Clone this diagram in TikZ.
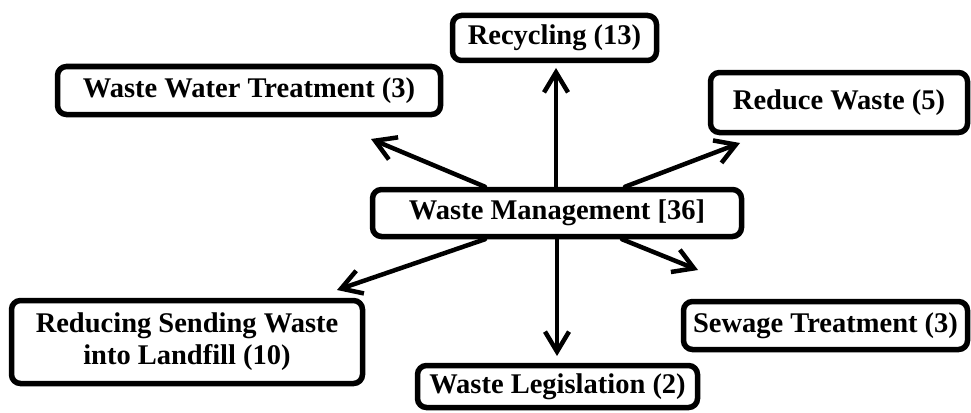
\documentclass[tikz,border=0pt]{standalone}
\usepackage{fontspec}
\setmainfont{Liberation Serif}
\usetikzlibrary{arrows.meta}
\begin{document}
\begin{tikzpicture}[x=1pt,y=-1pt,
  topic/.style={draw=black, line width=5.5pt, rounded corners=9pt, fill=white,
    inner sep=0pt, align=center,
    font=\fontsize{28.5}{32}\selectfont\bfseries},
  link/.style={line width=4.5pt, line cap=round,
    -{Straight Barb[length=20pt,width=24pt,line width=4.5pt]}}]
\useasboundingbox (0,0) rectangle (971,412);
% central topic
\node[topic, minimum width=369pt, minimum height=47pt] (wm) at (557,213) {Waste Management [36]};
% sub-topics
\node[topic, minimum width=204pt, minimum height=45pt] (rec) at (554.5,38) {Recycling (13)};
\node[topic, minimum width=383pt, minimum height=48pt] (wwt) at (249,90.5) {Waste Water Treatment (3)};
\node[topic, minimum width=257pt, minimum height=60pt] (red) at (839,102.5) {Reduce Waste (5)};
\node[topic, minimum width=351pt, minimum height=83pt] (lnd) at (187,342) {Reducing Sending Waste\\into Landfill (10)};
\node[topic, minimum width=280pt, minimum height=42pt] (leg) at (557.5,386.5) {Waste Legislation (2)};
\node[topic, minimum width=284pt, minimum height=48pt] (sew) at (825.5,325.5) {Sewage Treatment (3)};
% arrow tips
\coordinate (tRec) at (556,68);
\coordinate (tRed) at (740,143);
\coordinate (tWwt) at (371,139);
\coordinate (tLnd) at (337,290);
\coordinate (tLeg) at (557,356);
\coordinate (tSew) at (698,270);
% connectors
\draw[link] (wm.north -| tRec) -- (tRec);
\draw[link] ([xshift=68pt]wm.north) -- (tRed);
\draw[link] ([xshift=-72pt]wm.north) -- (tWwt);
\draw[link] ([xshift=-72pt]wm.south) -- (tLnd);
\draw[link] (wm.south -| tLeg) -- (tLeg);
\draw[link] ([xshift=65pt]wm.south) -- (tSew);
\end{tikzpicture}
\end{document}
